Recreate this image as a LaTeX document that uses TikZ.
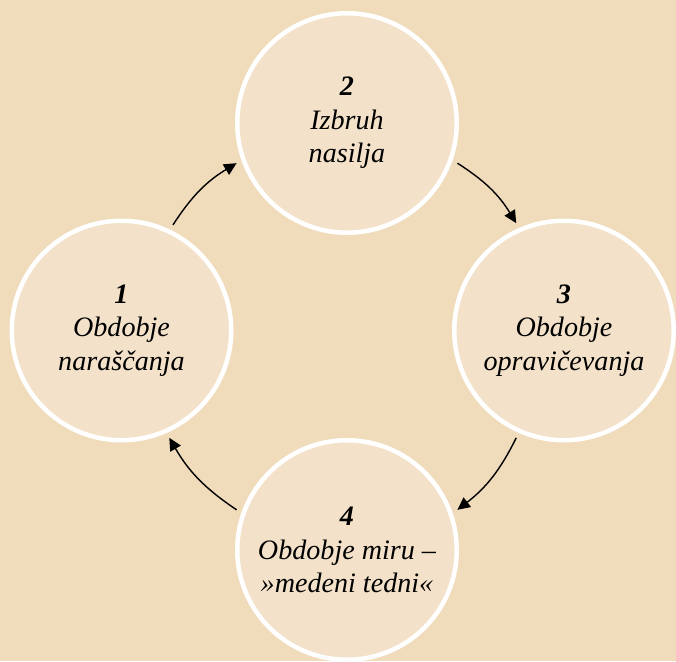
\documentclass[tikz,border=0pt]{standalone}
\usepackage{fontspec}
\setmainfont{Liberation Serif}
\usepackage{tikz}
\usetikzlibrary{positioning,calc,arrows.meta}
\definecolor{pbg}{RGB}{240,219,187}
\definecolor{pfill}{RGB}{243,226,201}

\begin{document}
\begin{tikzpicture}[
    phase/.style={circle, fill=pfill, draw=white, line width=0.09cm, minimum size=4.39cm, outer sep=0.155cm, inner sep=0pt, align=center, font=\fontsize{16}{19}\selectfont\itshape},
    cycleArrow/.style={-{Triangle[length=0.25cm,width=0.24cm]}, line width=0.028cm, bend left=13},
]
    \clip (0,0) rectangle (13.52,13.22);
    \fill[pbg] (0,0) rectangle (13.52,13.22);
    \coordinate (hub) at (6.94,6.61);

    \node[phase] (phaseTension) at ($(hub)+(-4.51,0)$) {\textbf{1}\\ Obdobje\\ naraščanja};
    \node[phase] (phaseOutburst) at ($(hub)+(0,4.15)$) {\textbf{2}\\ Izbruh\\ nasilja};
    \node[phase] (phaseExcuse) at ($(hub)+(4.34,0)$) {\textbf{3}\\ Obdobje\\ opravičevanja};
    \node[phase] (phaseCalm) at ($(hub)+(0,-4.39)$) {\textbf{4}\\ Obdobje miru –\\ »medeni tedni«};

    \draw[cycleArrow] (phaseTension.64) to (phaseOutburst.200);
    \draw[cycleArrow] (phaseOutburst.340) to (phaseExcuse.114);
    \draw[cycleArrow] (phaseExcuse.246) to (phaseCalm.20);
    \draw[cycleArrow] (phaseCalm.160) to (phaseTension.294);
\end{tikzpicture}
\end{document}
